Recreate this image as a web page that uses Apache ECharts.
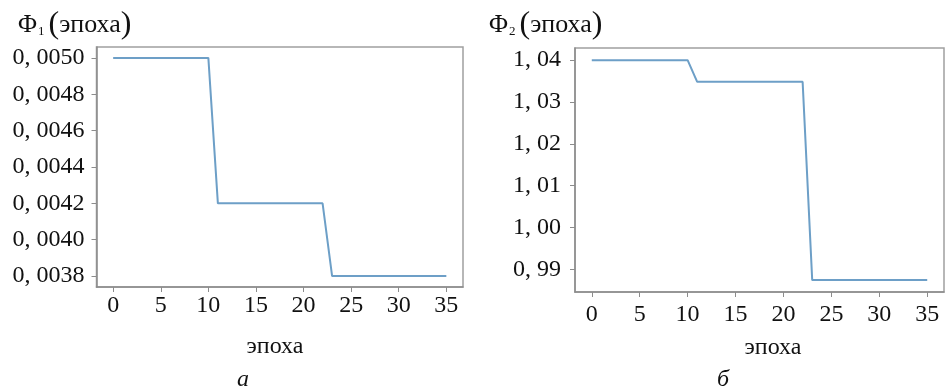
<!DOCTYPE html>
<html>
<head>
<meta charset="utf-8">
<script src="https://cdn.jsdelivr.net/npm/echarts@6/dist/echarts.min.js"></script>
<style>
  html, body { margin: 0; padding: 0; background: #fff; }
  #chart { width: 945px; height: 390px; }
</style>
</head>
<body>
<div id="chart"></div>
<script>
// епохи 0..35
var epochs = [0, 1, 2, 3, 4, 5, 6, 7, 8, 9, 10, 11, 12, 13, 14, 15, 16, 17,
  18, 19, 20, 21, 22, 23, 24, 25, 26, 27, 28, 29, 30, 31, 32, 33, 34, 35];
var phi1 = [0.0050, 0.0050, 0.0050, 0.0050, 0.0050, 0.0050, 0.0050, 0.0050, 0.0050, 0.0050, 0.0050,
  0.0042, 0.0042, 0.0042, 0.0042, 0.0042, 0.0042, 0.0042, 0.0042, 0.0042, 0.0042, 0.0042, 0.0042,
  0.0038, 0.0038, 0.0038, 0.0038, 0.0038, 0.0038, 0.0038, 0.0038, 0.0038, 0.0038, 0.0038, 0.0038, 0.0038];
var phi2 = [1.04, 1.04, 1.04, 1.04, 1.04, 1.04, 1.04, 1.04, 1.04, 1.04, 1.04,
  1.0348, 1.0348, 1.0348, 1.0348, 1.0348, 1.0348, 1.0348, 1.0348, 1.0348, 1.0348, 1.0348, 1.0348,
  0.9874, 0.9874, 0.9874, 0.9874, 0.9874, 0.9874, 0.9874, 0.9874, 0.9874, 0.9874, 0.9874, 0.9874, 0.9874];
var xTicks = [0, 5, 10, 15, 20, 25, 30, 35];
var y1Ticks = [0.0038, 0.0040, 0.0042, 0.0044, 0.0046, 0.0048, 0.0050];
var y2Ticks = [0.99, 1.00, 1.01, 1.02, 1.03, 1.04];

var font = 'Liberation Serif';
var axisGray = '#8c8c8c';
var lineBlue = '#6d9fc7';
var fs = 24;

function pairs(ys) {
  return epochs.map(function (e, i) { return [e, ys[i]]; });
}
function comma(v, d) {
  return v.toFixed(d).replace('.', ', ');
}
function xAxisCfg(idx, margin) {
  return {
    type: 'value', gridIndex: idx, min: -1.75, max: 36.75,
    axisLine: { show: true, onZero: false, lineStyle: { color: axisGray, width: 1.5 } },
    axisTick: { show: true, length: 5, customValues: xTicks, lineStyle: { color: axisGray } },
    axisLabel: { customValues: xTicks, margin: margin, fontFamily: font, fontSize: fs, color: '#111' },
    splitLine: { show: false }
  };
}
function yAxisCfg(idx, min, max, ticks, d, margin) {
  return {
    type: 'value', gridIndex: idx, min: min, max: max,
    axisLine: { show: true, onZero: false, lineStyle: { color: axisGray, width: 1.5 } },
    axisTick: { show: true, length: 5, customValues: ticks, lineStyle: { color: axisGray } },
    axisLabel: {
      customValues: ticks, margin: margin, fontFamily: font, fontSize: fs, color: '#111',
      formatter: function (v) { return comma(v, d); }
    },
    splitLine: { show: false }
  };
}
function titleText(x, sub) {
  return {
    type: 'text', left: x, top: 9,
    style: {
      text: '{a|Φ}{s|' + sub + '}{p|(}{a|эпоха}{p|)}',
      rich: {
        a: { fontFamily: font, fontSize: 26, fill: '#111' },
        s: { fontFamily: font, fontSize: 13, fill: '#111', padding: [14, 4, 0, 1] },
        p: { fontFamily: font, fontSize: 32, fill: '#111' }
      }
    }
  };
}
function caption(x, y, txt, italic) {
  return {
    type: 'text', x: x, y: y,
    style: {
      text: txt, fontFamily: font, fontSize: fs, fill: '#111',
      fontStyle: italic ? 'italic' : 'normal', align: 'center', verticalAlign: 'middle'
    }
  };
}

var chart = echarts.init(document.getElementById('chart'));
chart.setOption({
  animation: false,
  grid: [
    { left: 96.5, top: 47, width: 366.5, height: 240, show: true, borderColor: '#a0a0a0', borderWidth: 1.5 },
    { left: 575, top: 48, width: 369, height: 244, show: true, borderColor: '#a0a0a0', borderWidth: 1.5 }
  ],
  xAxis: [xAxisCfg(0, 7), xAxisCfg(1, 11)],
  yAxis: [
    yAxisCfg(0, 0.00374, 0.00506, y1Ticks, 4, 12),
    yAxisCfg(1, 0.98455, 1.0429, y2Ticks, 2, 14)
  ],
  series: [
    { type: 'line', xAxisIndex: 0, yAxisIndex: 0, data: pairs(phi1), showSymbol: false,
      lineStyle: { color: lineBlue, width: 2 } },
    { type: 'line', xAxisIndex: 1, yAxisIndex: 1, data: pairs(phi2), showSymbol: false,
      lineStyle: { color: lineBlue, width: 2 } }
  ],
  graphic: [
    titleText(18, '1'),
    titleText(489, '2'),
    caption(275, 347, 'эпоха', false),
    caption(773, 348, 'эпоха', false),
    caption(243, 380, 'а', true),
    caption(723, 380, 'б', true)
  ]
});
</script>
</body>
</html>
